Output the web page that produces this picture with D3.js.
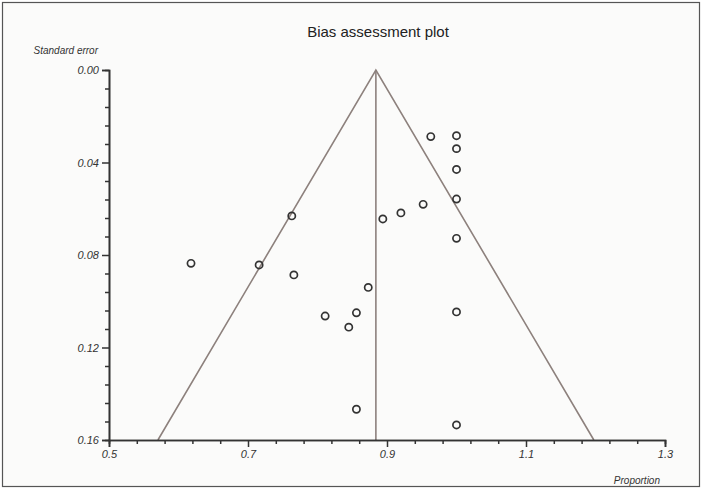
<!DOCTYPE html>
<html>
<head>
<meta charset="utf-8">
<script src="https://cdn.jsdelivr.net/npm/d3@7"></script>
<style>
  body { margin: 0; background: #fff; }
  svg { display: block; font-family: "Liberation Sans", Arial, sans-serif; }
</style>
</head>
<body>
<div class="viz"></div>
<script>
// study estimates
const proportion = [0.618, 0.716, 0.763, 0.766, 0.811, 0.845, 0.856, 0.873, 0.856,
  0.894, 0.920, 0.952, 0.963, 1.0, 1.0, 1.0, 1.0, 1.0, 1.0, 1.0];
const stdError = [0.0836, 0.0843, 0.0631, 0.0886, 0.1064, 0.1112, 0.1050, 0.0940, 0.1467,
  0.0644, 0.0618, 0.0581, 0.0288, 0.0284, 0.0340, 0.0430, 0.0558, 0.0728, 0.1046, 0.1535];
const pooled = 0.884;
const xTicks = [0.5, 0.7, 0.9, 1.1, 1.3];
const yTicks = [0.00, 0.04, 0.08, 0.12, 0.16];

const dims = { width: 702, height: 489, left: 109, right: 665, top: 70, bottom: 440 };

const svg = d3.select(".viz").append("svg")
  .attr("width", dims.width)
  .attr("height", dims.height);

svg.append("rect")
  .attr("x", 2.5).attr("y", 2.5)
  .attr("width", dims.width - 5).attr("height", dims.height - 5)
  .attr("fill", "#fbfbfa")
  .attr("stroke", "#555").attr("stroke-width", 1.2);

const xScale = d3.scaleLinear().domain([0.5, 1.3]).range([dims.left, dims.right]);
const yScale = d3.scaleLinear().domain([0, 0.16]).range([dims.top, dims.bottom]);

// funnel: pooled estimate +/- 1.96 SE
const funnel = [[pooled - 1.96 * 0.16, 0.16], [pooled, 0], [pooled + 1.96 * 0.16, 0.16]];
const line = d3.line().x(d => xScale(d[0])).y(d => yScale(d[1]));
svg.append("path")
  .attr("d", line(funnel))
  .attr("fill", "none")
  .attr("stroke", "#8d817d")
  .attr("stroke-width", 1.6);
svg.append("path")
  .attr("d", line([[pooled, 0], [pooled, 0.16]]))
  .attr("fill", "none")
  .attr("stroke", "#8d817d")
  .attr("stroke-width", 1.6);

// axes
const minorX = d3.range(0, 21).map(i => 0.5 + i * 0.04).filter((v, i) => i % 5 !== 0);
const minorY = d3.range(0, 21).map(i => i * 0.008).filter((v, i) => i % 5 !== 0);

svg.append("g")
  .attr("class", "minor")
  .attr("transform", `translate(0,${dims.bottom})`)
  .call(d3.axisBottom(xScale).tickValues(minorX).tickSize(4).tickFormat(""));
svg.append("g")
  .attr("class", "minor")
  .attr("transform", `translate(${dims.left},0)`)
  .call(d3.axisLeft(yScale).tickValues(minorY).tickSize(4).tickFormat(""));

svg.append("g")
  .attr("transform", `translate(0,${dims.bottom})`)
  .call(d3.axisBottom(xScale).tickValues(xTicks).tickSize(7).tickPadding(3).tickFormat(d3.format(".1f")));
svg.append("g")
  .attr("transform", `translate(${dims.left},0)`)
  .call(d3.axisLeft(yScale).tickValues(yTicks).tickSize(7).tickPadding(3).tickFormat(d3.format(".2f")));

svg.selectAll(".domain").attr("stroke", "#333").attr("stroke-width", 1.6);
svg.selectAll(".tick line").attr("stroke", "#333").attr("stroke-width", 1.5);
svg.selectAll(".tick text")
  .attr("fill", "#333")
  .style("font-size", "11px")
  .style("font-style", "italic");

// points
svg.append("g").selectAll("circle")
  .data(proportion.map((p, i) => [p, stdError[i]]))
  .join("circle")
  .attr("cx", d => xScale(d[0]))
  .attr("cy", d => yScale(d[1]))
  .attr("r", 3.6)
  .attr("fill", "none")
  .attr("stroke", "#333")
  .attr("stroke-width", 1.7);

// titles
svg.append("text")
  .attr("x", 378).attr("y", 37)
  .attr("text-anchor", "middle")
  .style("font-size", "15px")
  .attr("fill", "#222")
  .text("Bias assessment plot");

svg.append("text")
  .attr("x", 98).attr("y", 54)
  .attr("text-anchor", "end")
  .style("font-size", "10px")
  .style("font-style", "italic")
  .attr("fill", "#333")
  .text("Standard error");

svg.append("text")
  .attr("x", 660).attr("y", 484)
  .attr("text-anchor", "end")
  .style("font-size", "10px")
  .style("font-style", "italic")
  .attr("fill", "#333")
  .text("Proportion");
</script>
</body>
</html>
